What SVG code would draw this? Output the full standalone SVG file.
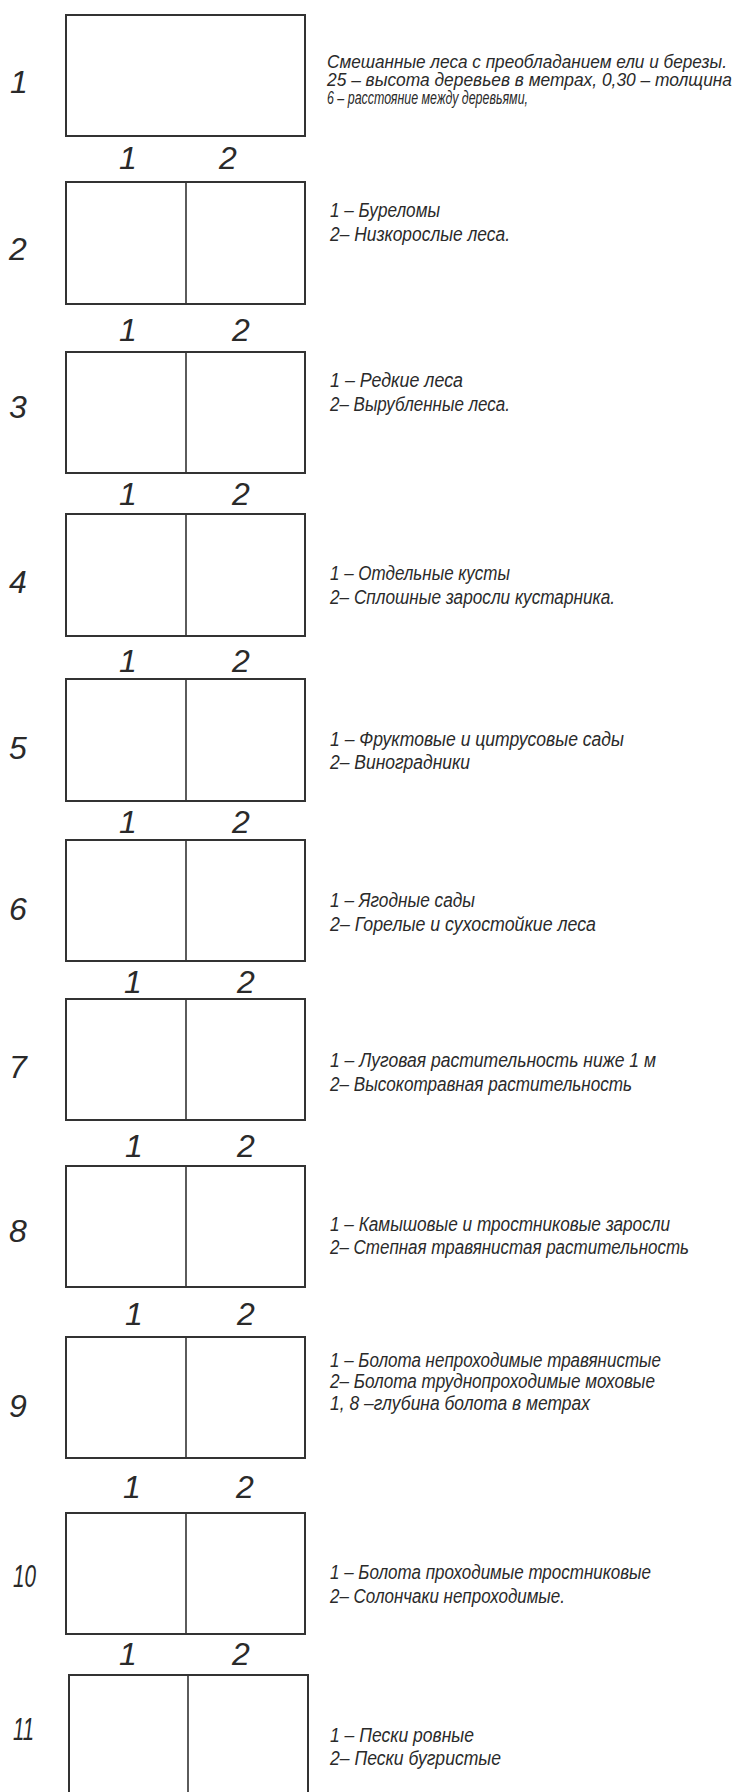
<svg xmlns="http://www.w3.org/2000/svg" width="746" height="1792" viewBox="0 0 746 1792">
<style>
.bg{fill:#ffffff}
.box{fill:none;stroke:#333333;stroke-width:2}
.div{stroke:#333333;stroke-width:1.6}
.num{font-family:"Liberation Sans",Arial,sans-serif;font-style:italic;font-size:32px;fill:#2a2a2a;text-anchor:middle}
.num2{font-family:"Liberation Sans",Arial,sans-serif;font-style:italic;font-size:32px;fill:#2a2a2a}
.t{font-family:"Liberation Sans",Arial,sans-serif;font-style:italic;font-size:19.5px;fill:#2a2a2a}
.t1{font-family:"Liberation Sans",Arial,sans-serif;font-style:italic;font-size:18px;fill:#2a2a2a}
</style>
<rect class="bg" x="0" y="0" width="746" height="1792"/>
<g id="connectors"></g>

<g id="block1">
<rect class="box" x="66" y="15" width="239" height="121"/>
<text class="num" x="19" y="93">1</text>
<text class="t1" x="327" y="68" textLength="400" lengthAdjust="spacingAndGlyphs">Смешанные леса с преобладанием ели и березы.</text>
<text class="t1" x="327" y="86" textLength="405" lengthAdjust="spacingAndGlyphs">25 – высота деревьев в метрах, 0,30 – толщина</text>
<text class="t1" x="327" y="104" textLength="201" lengthAdjust="spacingAndGlyphs">6 – расстояние между деревьями,</text>
<text class="num" x="128" y="169">1</text>
<text class="num" x="228" y="169">2</text>
</g>

<g id="block2">
<rect class="box" x="66" y="182" width="239" height="122"/>
<line class="div" x1="186" y1="182" x2="186" y2="304"/>
<text class="num" x="18" y="260">2</text>
<text class="t" x="330" y="217" textLength="110" lengthAdjust="spacingAndGlyphs">1 – Буреломы</text>
<text class="t" x="330" y="241" textLength="180" lengthAdjust="spacingAndGlyphs">2– Низкорослые леса.</text>
<text class="num" x="128" y="341">1</text>
<text class="num" x="241" y="341">2</text>
</g>

<g id="block3">
<rect class="box" x="66" y="352" width="239" height="121"/>
<line class="div" x1="186" y1="352" x2="186" y2="473"/>
<text class="num" x="18" y="418">3</text>
<text class="t" x="330" y="387" textLength="133" lengthAdjust="spacingAndGlyphs">1 – Редкие леса</text>
<text class="t" x="330" y="411" textLength="180" lengthAdjust="spacingAndGlyphs">2– Вырубленные леса.</text>
<text class="num" x="128" y="505">1</text>
<text class="num" x="241" y="505">2</text>
</g>

<g id="block4">
<rect class="box" x="66" y="514" width="239" height="122"/>
<line class="div" x1="186" y1="514" x2="186" y2="636"/>
<text class="num" x="18" y="593">4</text>
<text class="t" x="330" y="580" textLength="180" lengthAdjust="spacingAndGlyphs">1 – Отдельные кусты</text>
<text class="t" x="330" y="604" textLength="285" lengthAdjust="spacingAndGlyphs">2– Сплошные заросли кустарника.</text>
<text class="num" x="128" y="672">1</text>
<text class="num" x="241" y="672">2</text>
</g>

<g id="block5">
<rect class="box" x="66" y="679" width="239" height="122"/>
<line class="div" x1="186" y1="679" x2="186" y2="801"/>
<text class="num" x="18" y="759">5</text>
<text class="t" x="330" y="746" textLength="294" lengthAdjust="spacingAndGlyphs">1 – Фруктовые и цитрусовые сады</text>
<text class="t" x="330" y="769" textLength="140" lengthAdjust="spacingAndGlyphs">2– Виноградники</text>
<text class="num" x="128" y="833">1</text>
<text class="num" x="241" y="833">2</text>
</g>

<g id="block6">
<rect class="box" x="66" y="840" width="239" height="121"/>
<line class="div" x1="186" y1="840" x2="186" y2="961"/>
<text class="num" x="18" y="920">6</text>
<text class="t" x="330" y="907" textLength="145" lengthAdjust="spacingAndGlyphs">1 – Ягодные сады</text>
<text class="t" x="330" y="931" textLength="266" lengthAdjust="spacingAndGlyphs">2– Горелые и сухостойкие леса</text>
<text class="num" x="133" y="993">1</text>
<text class="num" x="246" y="993">2</text>
</g>

<g id="block7">
<rect class="box" x="66" y="999" width="239" height="121"/>
<line class="div" x1="186" y1="999" x2="186" y2="1120"/>
<text class="num" x="18" y="1078">7</text>
<text class="t" x="330" y="1067" textLength="326" lengthAdjust="spacingAndGlyphs">1 – Луговая растительность ниже 1 м</text>
<text class="t" x="330" y="1091" textLength="302" lengthAdjust="spacingAndGlyphs">2– Высокотравная растительность</text>
<text class="num" x="134" y="1157">1</text>
<text class="num" x="246" y="1157">2</text>
</g>

<g id="block8">
<rect class="box" x="66" y="1166" width="239" height="121"/>
<line class="div" x1="186" y1="1166" x2="186" y2="1287"/>
<text class="num" x="18" y="1242">8</text>
<text class="t" x="330" y="1231" textLength="340" lengthAdjust="spacingAndGlyphs">1 – Камышовые и тростниковые заросли</text>
<text class="t" x="330" y="1254" textLength="359" lengthAdjust="spacingAndGlyphs">2– Степная травянистая растительность</text>
<text class="num" x="134" y="1325">1</text>
<text class="num" x="246" y="1325">2</text>
</g>

<g id="block9">
<rect class="box" x="66" y="1337" width="239" height="121"/>
<line class="div" x1="186" y1="1337" x2="186" y2="1458"/>
<text class="num" x="18" y="1417">9</text>
<text class="t" x="330" y="1367" textLength="331" lengthAdjust="spacingAndGlyphs">1 – Болота непроходимые травянистые</text>
<text class="t" x="330" y="1388" textLength="325" lengthAdjust="spacingAndGlyphs">2– Болота труднопроходимые моховые</text>
<text class="t" x="330" y="1410" textLength="260" lengthAdjust="spacingAndGlyphs">1, 8 –глубина болота в метрах</text>
<text class="num" x="132" y="1498">1</text>
<text class="num" x="245" y="1498">2</text>
</g>

<g id="block10">
<rect class="box" x="66" y="1513" width="239" height="121"/>
<line class="div" x1="186" y1="1513" x2="186" y2="1634"/>
<text class="num2" x="13" y="1587" textLength="23" lengthAdjust="spacingAndGlyphs">10</text>
<text class="t" x="330" y="1579" textLength="321" lengthAdjust="spacingAndGlyphs">1 – Болота проходимые тростниковые</text>
<text class="t" x="330" y="1603" textLength="235" lengthAdjust="spacingAndGlyphs">2– Солончаки непроходимые.</text>
<text class="num" x="128" y="1665">1</text>
<text class="num" x="241" y="1665">2</text>
</g>

<g id="block11">
<rect class="box" x="69" y="1675" width="239" height="125"/>
<line class="div" x1="188" y1="1675" x2="188" y2="1800"/>
<text class="num2" x="13" y="1740" textLength="21" lengthAdjust="spacingAndGlyphs">11</text>
<text class="t" x="330" y="1742" textLength="144" lengthAdjust="spacingAndGlyphs">1 – Пески ровные</text>
<text class="t" x="330" y="1765" textLength="171" lengthAdjust="spacingAndGlyphs">2– Пески бугристые</text>
</g>
</svg>
